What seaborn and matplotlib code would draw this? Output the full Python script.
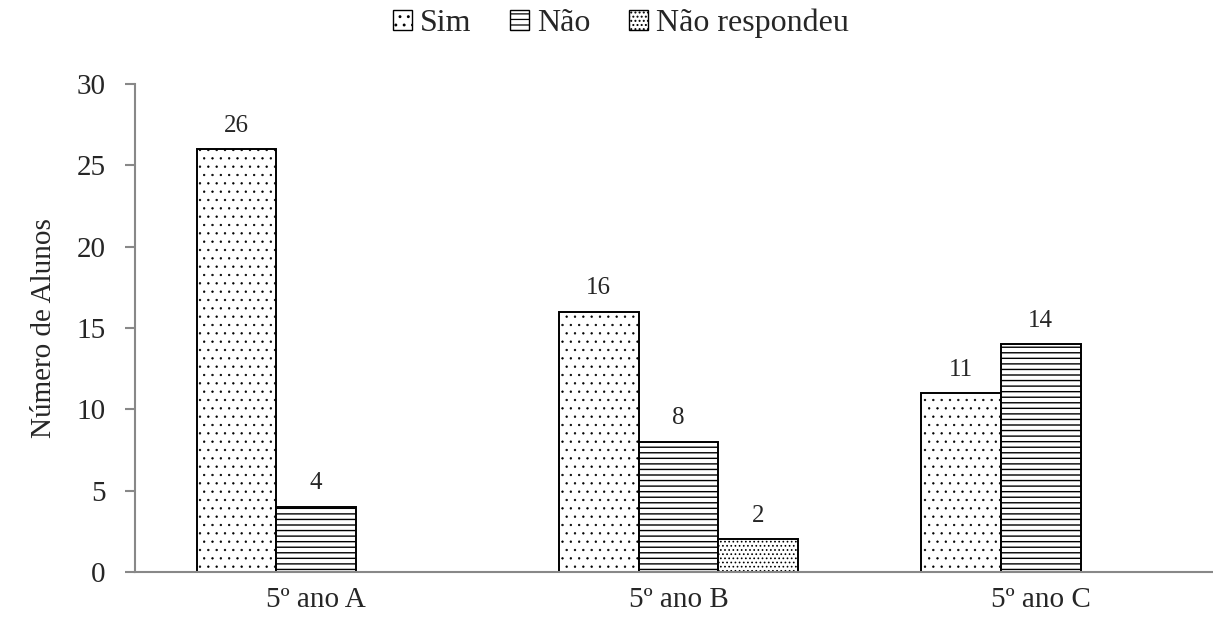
import pandas as pd
import numpy as np
import matplotlib
matplotlib.use("Agg")
import matplotlib.pyplot as plt
import matplotlib.patches as mpatches
import seaborn as sns

# data
turmas = ["5º ano A", "5º ano B", "5º ano C"]
respostas = ["Sim", "Não", "Não respondeu"]
sim = [26, 16, 11]
nao = [4, 8, 14]
nao_resp = [0, 2, 0]

hatches = ["..", "---", "...."]
hatch_lw = [0.45, 1.0, 0.7]

df = pd.DataFrame({
    "turma": turmas * 3,
    "resposta": [r for r in respostas for _ in turmas],
    "n": sim + nao + nao_resp,
})

sns.set_style("white")
plt.rcParams["font.family"] = ["Liberation Serif", "DejaVu Serif"]
plt.rcParams["hatch.linewidth"] = 0.9

fig = plt.figure(figsize=(12.13, 6.18), dpi=100)
ax = fig.add_axes([0.1113, 0.0744, 0.896, 0.7896])

sns.barplot(data=df, x="turma", y="n", hue="resposta", hue_order=respostas,
            order=turmas, palette=["white"] * 3, edgecolor="black",
            linewidth=1.4, width=0.66, legend=False, ax=ax, saturation=1)

for cont, h, hl in zip(ax.containers, hatches, hatch_lw):
    for bar in cont:
        bar.set_hatch(h)
        if hasattr(bar, "set_hatch_linewidth"):
            bar.set_hatch_linewidth(hl)
    vals = [bar.get_height() for bar in cont]
    ax.bar_label(cont, labels=[f"{v:.0f}" if v > 0 else "" for v in vals],
                 padding=9, fontsize=18)

ax.set_ylim(0, 30)
ax.set_yticks(range(0, 31, 5))
ax.set_xlim(-0.5, 2.5)
ax.set_xticks([-0.5, 0.5, 1.5, 2.5], minor=True)
ax.tick_params(axis="x", which="major", length=0, labelsize=21, pad=11)
ax.tick_params(axis="x", which="minor", length=7, width=1.5, color="#888888", direction="out")
ax.tick_params(axis="y", length=7, width=1.5, color="#888888", labelsize=21, pad=14, left=True)
ax.set_xlabel("")
ax.set_ylabel("Número de Alunos", fontsize=21, labelpad=14)

sns.despine(ax=ax)
for s in ["left", "bottom"]:
    ax.spines[s].set_color("#888888")
    ax.spines[s].set_linewidth(1.5)

handles = []
for h, hl in zip(hatches, hatch_lw):
    p = mpatches.Patch(facecolor="white", edgecolor="black", hatch=h, linewidth=1.0)
    if hasattr(p, "set_hatch_linewidth"):
        p.set_hatch_linewidth(hl)
    handles.append(p)
fig.legend(handles, respostas, loc="center", bbox_to_anchor=(0.512, 0.962),
           ncol=3, frameon=False, fontsize=23, handlelength=0.6, handleheight=0.6,
           handletextpad=0.25, columnspacing=1.2)

fig.savefig("out.png", dpi=100)
